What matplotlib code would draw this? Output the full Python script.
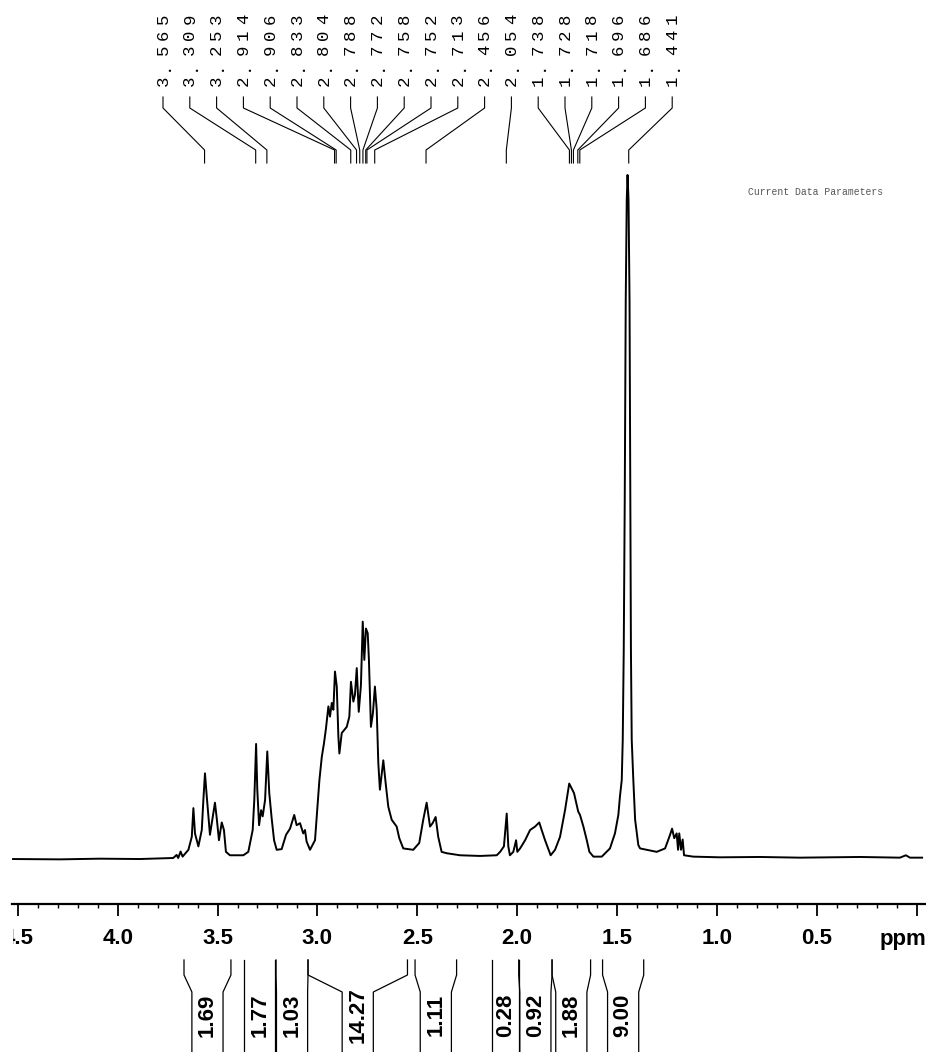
#!/usr/bin/env python3
"""1H NMR spectrum with peak picking and integrals, redrawn from a scan."""
import matplotlib
matplotlib.use("Agg")
import matplotlib.pyplot as plt
from matplotlib.patches import Rectangle
from matplotlib.ticker import MultipleLocator
import numpy as np

W, H = 926, 1052
BLACK, GREY, WHITE = "#000000", "#555555", "#FFFFFF"

# spectrum trace (ppm, intensity; tallest line = 100)
shift = [4.524, 4.289, 4.089, 3.889, 3.722, 3.705, 3.697, 3.685, 3.675, 3.646,
         3.629, 3.621, 3.613, 3.596, 3.579, 3.571, 3.563, 3.554, 3.538, 3.524,
         3.513, 3.504, 3.493, 3.479, 3.468, 3.458, 3.438, 3.371, 3.346, 3.324,
         3.316, 3.307, 3.301, 3.292, 3.282, 3.274, 3.262, 3.251, 3.241, 3.229,
         3.217, 3.204, 3.179, 3.157, 3.137, 3.116, 3.104, 3.087, 3.071, 3.062,
         3.054, 3.037, 3.012, 2.990, 2.978, 2.967, 2.957, 2.945, 2.937, 2.928,
         2.920, 2.912, 2.903, 2.895, 2.890, 2.878, 2.867, 2.853, 2.840, 2.832,
         2.820, 2.812, 2.803, 2.793, 2.782, 2.773, 2.765, 2.757, 2.748, 2.742,
         2.732, 2.722, 2.712, 2.703, 2.695, 2.687, 2.670, 2.658, 2.645, 2.628,
         2.603, 2.590, 2.570, 2.520, 2.490, 2.470, 2.453, 2.436, 2.423, 2.408,
         2.395, 2.378, 2.353, 2.286, 2.186, 2.102, 2.085, 2.066, 2.052, 2.044,
         2.036, 2.019, 2.005, 1.999, 1.985, 1.960, 1.935, 1.910, 1.889, 1.877,
         1.860, 1.832, 1.810, 1.785, 1.760, 1.739, 1.727, 1.715, 1.694, 1.685,
         1.668, 1.651, 1.638, 1.618, 1.576, 1.535, 1.510, 1.493, 1.485, 1.476,
         1.471, 1.466, 1.461, 1.456, 1.451, 1.447, 1.442, 1.437, 1.433, 1.430,
         1.426, 1.418, 1.409, 1.393, 1.384, 1.351, 1.301, 1.259, 1.234, 1.224,
         1.213, 1.201, 1.194, 1.188, 1.179, 1.171, 1.164, 1.118, 0.984, 0.784,
         0.583, 0.283, 0.083, 0.053, 0.033, -0.028]
intensity = [-0.15, -0.20, -0.10, -0.15, 0.00, 0.45, 0.00, 0.95, 0.20, 1.20,
             3.10, 7.30, 3.60, 1.70, 4.10, 8.50, 12.40, 9.00, 3.40, 6.00,
             8.10, 5.80, 2.60, 5.20, 4.10, 0.90, 0.40, 0.40, 0.90, 4.10,
             8.50, 16.70, 10.00, 4.80, 7.00, 6.10, 8.50, 15.60, 9.50, 5.80,
             2.60, 1.20, 1.30, 3.40, 4.30, 6.30, 4.80, 5.10, 3.60, 4.10,
             2.40, 1.20, 2.60, 11.40, 14.80, 16.80, 19.00, 22.20, 20.70, 22.70,
             21.70, 27.30, 25.10, 17.80, 15.30, 18.30, 18.70, 19.20, 20.70, 25.80,
             22.90, 23.90, 27.80, 21.40, 25.30, 34.60, 29.00, 33.60, 32.90, 29.00,
             19.20, 21.20, 25.10, 21.70, 13.90, 10.00, 14.30, 10.90, 7.50, 5.60,
             4.60, 2.90, 1.40, 1.20, 2.20, 5.60, 8.10, 4.60, 5.10, 6.00,
             3.10, 0.90, 0.70, 0.40, 0.30, 0.40, 0.90, 1.70, 6.50, 1.70,
             0.40, 0.90, 2.60, 0.90, 1.40, 2.60, 4.10, 4.60, 5.20, 4.10,
             2.60, 0.40, 1.20, 3.10, 7.00, 10.90, 10.20, 9.50, 6.80, 6.30,
             4.60, 2.60, 0.90, 0.20, 0.20, 1.40, 3.60, 6.30, 9.00, 11.40,
             17.30, 30.50, 52.40, 81.70, 96.30, 100.00, 96.30, 81.70, 52.40, 30.50,
             17.30, 11.40, 5.60, 1.90, 1.40, 1.20, 0.90, 1.40, 3.40, 4.30,
             2.90, 3.60, 1.20, 3.60, 1.20, 2.70, 0.40, 0.20, 0.10, 0.15,
             0.05, 0.15, 0.05, 0.40, 0.05, 0.05]

# picked peaks
peaks = [3.565, 3.309, 3.253, 2.914, 2.906, 2.833, 2.804, 2.788, 2.772, 2.758,
         2.752, 2.713, 2.456, 2.054, 1.738, 1.728, 1.718, 1.696, 1.686, 1.441]

# integral regions (ppm) and values
integ_from = [3.668, 3.366, 3.207, 3.047, 2.511, 2.126, 1.992, 1.825, 1.572]
integ_to = [3.433, 3.211, 3.047, 2.549, 2.303, 1.992, 1.825, 1.632, 1.366]
integ_val = [1.69, 1.77, 1.03, 14.27, 1.11, 0.28, 0.92, 1.88, 9.00]

tick_labels = [4.5, 4.0, 3.5, 3.0, 2.5, 2.0, 1.5, 1.0, 0.5]

fig = plt.figure(figsize=(W / 100, H / 100), dpi=100, facecolor=WHITE)

# spectrum + ppm axis
ax = fig.add_axes([12 / W, (H - 904) / H, (W - 12) / W, (904 - 140) / H])
ax.set_xlim(4.5293, -0.04757)
ax.set_ylim(-6.735, 105.12)
ax.patch.set_alpha(0)
ax.plot(shift, intensity, color=BLACK, lw=1.4)
for s in ("top", "left", "right"):
    ax.spines[s].set_visible(False)
ax.spines["bottom"].set_linewidth(1.6)
ax.set_yticks([])
ax.xaxis.set_major_locator(MultipleLocator(0.5))
ax.xaxis.set_minor_locator(MultipleLocator(0.1))
ax.tick_params(axis="x", which="major", length=8.6, width=1.3, direction="out", labelbottom=False)
ax.tick_params(axis="x", which="minor", length=2.8, width=1.0, direction="out")

# overlay in (ppm, pixel-from-top) for labels, leaders and integrals
top = fig.add_axes([0, 0, 1, 1])
top.set_xlim(4.5894, -0.04757)
top.set_ylim(H, 0)
top.axis("off")
top.patch.set_alpha(0)

for v in tick_labels:
    top.text(v, 939, f"{v:.1f}", ha="center", va="center", fontsize=16,
             fontweight="bold", family="Liberation Sans")
top.text(903 / W, 1 - 939 / H, "ppm", transform=top.transAxes, ha="center", va="center",
         fontsize=16, fontweight="bold", family="Liberation Sans")
fig.add_artist(Rectangle((0, 1 - 958 / H), 13 / W, 36 / H, transform=fig.transFigure,
                         facecolor=WHITE, edgecolor="none", zorder=20))

# peak labels (widely spaced mono characters) with leader lines
lab_px = 163 + 26.8 * np.arange(len(peaks))
lab_x = top.transData.inverted().transform(np.column_stack([lab_px, np.zeros_like(lab_px)]))[:, 0]
for lx, p in zip(lab_x, peaks):
    top.plot([lx, lx, p, p], [97, 108, 150, 163], color=BLACK, lw=0.8)
    for k, ch in enumerate(f"{p:.3f}"):
        top.text(lx, 81 - 15.5 * k, ch, rotation=90, ha="center", va="center",
                 fontsize=12.5, family="Liberation Mono")

fig.text(748 / W, 1 - 192 / H, "Current Data Parameters", fontsize=7,
         family="Liberation Mono", color=GREY, va="center")

# integral brackets
half = 0.078
for a, b, v in zip(integ_from, integ_to, integ_val):
    c = (a + b) / 2
    il, ir = min(a, c + half), max(b, c - half)
    top.plot([a, a, il, il], [960, 975, 992, H + 5], color=BLACK, lw=0.9)
    top.plot([b, b, ir, ir], [960, 975, 992, H + 5], color=BLACK, lw=0.9)
    top.text(c, 1015, f"{v:.2f}", rotation=90, ha="center", va="center",
             fontsize=16, fontweight="bold", family="Liberation Sans")

fig.savefig("out.png", dpi=100, facecolor=WHITE)
